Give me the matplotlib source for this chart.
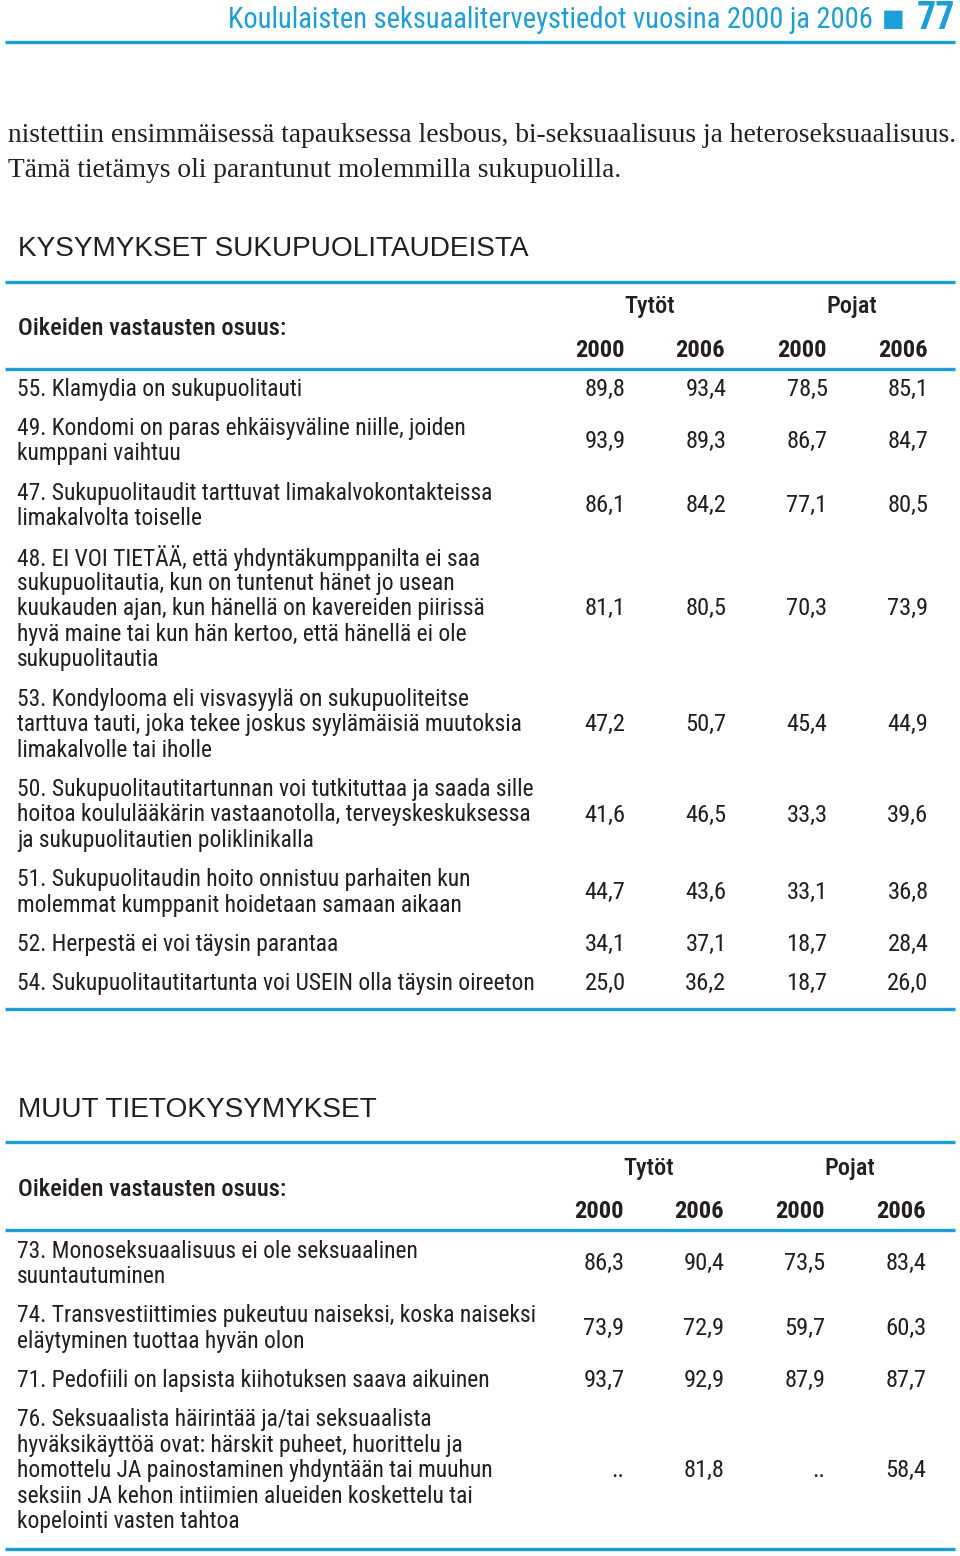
import matplotlib
matplotlib.use("Agg")
import matplotlib.pyplot as plt

# ---------------- data ----------------
header_title = "Koululaisten seksuaaliterveystiedot vuosina 2000 ja 2006"
page_number = "77"
intro_lines = [
    "nistettiin ensimmäisessä tapauksessa lesbous, bi-seksuaalisuus ja heteroseksuaalisuus.",
    "Tämä tietämys oli parantunut molemmilla sukupuolilla.",
]
group_labels = ["Tytöt", "Pojat"]
year_labels = ["2000", "2006", "2000", "2006"]
subheader = "Oikeiden vastausten osuus:"

section1_title = "KYSYMYKSET SUKUPUOLITAUDEISTA"
section1_questions = [
    "55. Klamydia on sukupuolitauti",
    "49. Kondomi on paras ehkäisyväline niille, joiden\nkumppani vaihtuu",
    "47. Sukupuolitaudit tarttuvat limakalvokontakteissa\nlimakalvolta toiselle",
    "48. EI VOI TIETÄÄ, että yhdyntäkumppanilta ei saa\nsukupuolitautia, kun on tuntenut hänet jo usean\nkuukauden ajan, kun hänellä on kavereiden piirissä\nhyvä maine tai kun hän kertoo, että hänellä ei ole\nsukupuolitautia",
    "53. Kondylooma eli visvasyylä on sukupuoliteitse\ntarttuva tauti, joka tekee joskus syylämäisiä muutoksia\nlimakalvolle tai iholle",
    "50. Sukupuolitautitartunnan voi tutkituttaa ja saada sille\nhoitoa koululääkärin vastaanotolla, terveyskeskuksessa\nja sukupuolitautien poliklinikalla",
    "51. Sukupuolitaudin hoito onnistuu parhaiten kun\nmolemmat kumppanit hoidetaan samaan aikaan",
    "52. Herpestä ei voi täysin parantaa",
    "54. Sukupuolitautitartunta voi USEIN olla täysin oireeton",
]
s1_tytot_2000 = [89.8, 93.9, 86.1, 81.1, 47.2, 41.6, 44.7, 34.1, 25.0]
s1_tytot_2006 = [93.4, 89.3, 84.2, 80.5, 50.7, 46.5, 43.6, 37.1, 36.2]
s1_pojat_2000 = [78.5, 86.7, 77.1, 70.3, 45.4, 33.3, 33.1, 18.7, 18.7]
s1_pojat_2006 = [85.1, 84.7, 80.5, 73.9, 44.9, 39.6, 36.8, 28.4, 26.0]

section2_title = "MUUT TIETOKYSYMYKSET"
section2_questions = [
    "73. Monoseksuaalisuus ei ole seksuaalinen\nsuuntautuminen",
    "74. Transvestiittimies pukeutuu naiseksi, koska naiseksi\neläytyminen tuottaa hyvän olon",
    "71. Pedofiili on lapsista kiihotuksen saava aikuinen",
    "76. Seksuaalista häirintää ja/tai seksuaalista\nhyväksikäyttöä ovat: härskit puheet, huorittelu ja\nhomottelu JA painostaminen yhdyntään tai muuhun\nseksiin JA kehon intiimien alueiden koskettelu tai\nkopelointi vasten tahtoa",
]
s2_tytot_2000 = [86.3, 73.9, 93.7, None]
s2_tytot_2006 = [90.4, 72.9, 92.9, 81.8]
s2_pojat_2000 = [73.5, 59.7, 87.9, None]
s2_pojat_2006 = [83.4, 60.3, 87.7, 58.4]

# ---------------- style ----------------
BLUE = "#1c9fd8"
TXT = "#231f20"
NARROW = ["Roboto Condensed", "DejaVu Sans"]
SANS = ["Liberation Sans", "DejaVu Sans"]
SERIF = ["Liberation Serif", "DejaVu Serif"]

W, H = 960, 1556
fig = plt.figure(figsize=(W / 100, H / 100), dpi=100)
ax = fig.add_axes([0, 0, 1, 1])
ax.set_xlim(0, W)
ax.set_ylim(H, 0)
ax.axis("off")


def px(p):
    return p * 72 / 100


def fmt(v):
    return ".." if v is None else f"{v:.1f}".replace(".", ",")


def hline(y):
    ax.plot([5, 955], [y, y], color=BLUE, lw=2.4, solid_capstyle="butt")


# header
ax.text(873, 20, header_title, color=BLUE, fontsize=px(28.5), family=NARROW,
        ha="right", va="center")
ax.text(893, 19, "■", color=BLUE, fontsize=px(24), family=["DejaVu Sans"],
        ha="center", va="center")
ax.text(955, 18, page_number, color=BLUE, fontsize=px(38), family=NARROW,
        fontweight="bold", ha="right", va="center")
hline(42)

# intro
ax.text(8, 135, intro_lines[0], color=TXT, fontsize=px(27.5), family=SERIF,
        ha="left", va="center")
ax.text(8, 170, intro_lines[1], color=TXT, fontsize=px(27.5), family=SERIF,
        ha="left", va="center")

LINE = 25.5
GAP = 39.3
FS = 23.5


def section(title, title_y, top_line, group_y, sub_y, year_y, hdr_line,
            first_y, questions, cols, group_x, year_x, val_x, bottom_line):
    ax.text(18, title_y, title, color=TXT, fontsize=px(28), family=SANS,
            ha="left", va="center")
    hline(top_line)
    for g, gx in zip(group_labels, group_x):
        ax.text(gx, group_y, g, color=TXT, fontsize=px(24.5), family=NARROW,
                fontweight=500, ha="center", va="center")
    ax.text(18, sub_y, subheader, color=TXT, fontsize=px(24.5), family=NARROW,
            fontweight=500, ha="left", va="center")
    for yl, xx in zip(year_labels, year_x):
        ax.text(xx, year_y, yl, color=TXT, fontsize=px(24.5), family=NARROW,
                fontweight="bold", ha="center", va="center")
    hline(hdr_line)
    y = first_y
    for i, q in enumerate(questions):
        lines = q.split("\n")
        ys = [y + k * LINE for k in range(len(lines))]
        for ln, yy in zip(lines, ys):
            ax.text(17, yy, ln, color=TXT, fontsize=px(FS), family=NARROW,
                    ha="left", va="center")
        vy = sum(ys) / len(ys)
        for col, xx in zip(cols, val_x):
            v = col[i]
            ax.text(xx + (14 if v is None else 0), vy, fmt(v), color=TXT,
                    fontsize=px(24.5), family=NARROW,
                    ha="center", va="center")
        y = ys[-1] + GAP
    hline(bottom_line)


section(section1_title, 249, 282, 306, 328, 350, 369, 389,
        section1_questions,
        [s1_tytot_2000, s1_tytot_2006, s1_pojat_2000, s1_pojat_2006],
        [650, 852], [600, 700, 802, 903], [605, 706, 807, 908], 1009)

section(section2_title, 1110, 1142, 1168, 1190, 1212, 1230, 1251,
        section2_questions,
        [s2_tytot_2000, s2_tytot_2006, s2_pojat_2000, s2_pojat_2006],
        [649, 850], [599, 699, 800, 901], [604, 704, 805, 906], 1549)

fig.savefig("out.png", dpi=100)
